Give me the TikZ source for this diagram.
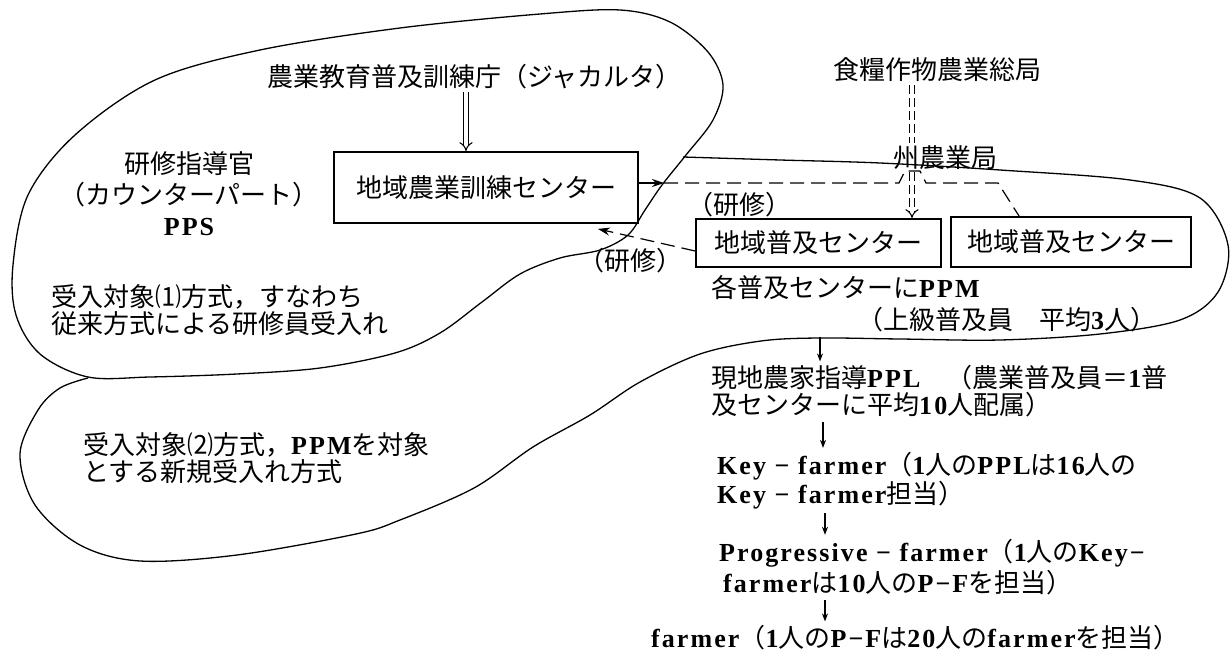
\documentclass[tikz,border=0pt]{standalone}
\usepackage{fontspec}
\newfontfamily\cjk{Noto Sans CJK JP}
\newfontfamily\latfont{Liberation Serif}[LetterSpace=8]
\newcommand\latn[1]{{\latfont\bfseries #1}}
\usetikzlibrary{arrows.meta,calc}
\tikzset{
  txt/.style={font=\cjk\fontsize{26}{30}\selectfont, inner sep=0pt, text=black},
  boxnode/.style={txt, draw, line width=1.8pt},
  blob/.style={line width=1.3pt},
  dsh/.style={line width=1.2pt, dash pattern=on 14pt off 7pt},
  dbl/.style={line width=1.1pt, double, double distance=3.5pt},
  thinarr/.style={line width=1.1pt, -{Stealth[length=8pt,width=6pt]}, shorten <=4pt, shorten >=4pt},
}
\begin{document}
\begin{tikzpicture}[x=1pt,y=-1pt]
\path[use as bounding box, fill=white] (0,0) rectangle (1232,655);

% regions
\draw[blob] plot[smooth cycle, tension=0.55] coordinates {
 (88,377) (40,354) (16,315) (13,265) (28,195) (75,135) (155,80) (260,50)
 (400,28) (540,14) (620,10) (670,22) (708,52) (723,85) (713,120) (686,155)
 (662,185) (645,210) (628,235) (600,250) (560,258) (520,274) (482,302)
 (440,333) (395,353) (320,368) (237,374) (150,377)};
\draw[blob] plot[smooth, tension=0.55] coordinates {
 (683,157) (780,160) (880,163) (1000,170) (1130,180) (1200,198) (1228,245)
 (1218,292) (1180,320) (1100,334) (1000,340) (900,339) (818,338) (761,341)
 (700,354) (640,382) (590,415) (533,447) (474,488) (400,520) (356,534)
 (237,555) (140,561) (80,545) (35,505) (20,454) (38,410) (60,388) (88,378)};

% texts
\node[txt, anchor=west] (tl) at (267,77) {農業教育普及訓練庁（ジャカルタ）};
\node[txt, anchor=west] (top2) at (833,70) {食糧作物農業総局};
\node[txt] (shu) at (945,158) {州農業局};
\node[txt, align=center] (officer) at (189,194) {研修指導官\\[1pt]（カウンターパート）\\[1pt]\latn{PPS}};
\node[boxnode, minimum width=304pt, minimum height=71pt] (tc) at (486,187.5) {地域農業訓練センター};
\node[boxnode, minimum width=245pt, minimum height=48pt] (box1) at (818.5,243) {地域普及センター};
\node[boxnode, minimum width=240pt, minimum height=50pt] (box2) at (1071,242) {地域普及センター};
\node[txt] (ken1) at (739,205) {（研修）};
\node[txt] (ken2) at (630,261) {（研修）};
\node[txt, anchor=west] (ppm1) at (711,288) {各普及センターに\latn{PPM}};
\node[txt, anchor=west] (ppm2) at (857,320) {（上級普及員　平均\latn{3}人）};
\node[txt, anchor=west] (ppl1) at (711,378) {現地農家指導\latn{PPL}　（農業普及員＝\latn{1}普};
\node[txt, anchor=west] (ppl2) at (711,405) {及センターに平均\latn{10}人配属）};
\node[txt, anchor=west] (key1) at (717,466) {\latn{Key − farmer}（\latn{1}人の\latn{PPL}は\latn{16}人の};
\node[txt, anchor=west] (key2) at (717,495) {\latn{Key − farmer}担当）};
\node[txt, anchor=west] (prog1) at (719,553) {\latn{Progressive − farmer}（\latn{1}人の\latn{Key−}};
\node[txt, anchor=west] (prog2) at (723,583) {\latn{farmer}は\latn{10}人の\latn{P−F}を担当）};
\node[txt, anchor=west] (farm) at (651,638) {\latn{farmer}（\latn{1}人の\latn{P−F}は\latn{20}人の\latn{farmer}を担当）};
\node[txt, anchor=west, align=left] (recv1) at (51,310.5) {受入対象⑴方式，すなわち\\[-3pt]従来方式による研修員受入れ};
\node[txt, anchor=west, align=left] (recv2) at (83,458.5) {受入対象⑵方式，\latn{PPM}を対象\\[-3pt]とする新規受入れ方式};

% connectors
\coordinate (ax) at (466,0);
\draw[dbl, -{Implies}, shorten <=2pt] (tl.south -| ax) -- (tc.north -| ax);
\coordinate (vx) at (912,0);
\draw[dbl, dash pattern=on 9pt off 4pt, shorten <=3pt, shorten >=3pt] (top2.south -| vx) -- (shu.north -| vx);
\draw[dbl, dash pattern=on 9pt off 4pt, -{Implies}, shorten <=2pt] (shu.south -| vx) -- (box1.north -| vx);

\coordinate (ah) at (664,183);
\draw[line width=1.2pt, -{Stealth[length=12pt,width=8pt]}] (tc.east |- ah) -- (ah);
\coordinate (h1) at (899,183);
\coordinate (h2) at (905,171);
\coordinate (h3) at (920,171);
\coordinate (h4) at (926,183);
\coordinate (h5) at (998,183);
\draw[dsh] (ah) -- (h1) -- (h2) -- (h3) -- (h4) -- (h5) -- ($(box2.north west)+(69,0)$);
\coordinate (l1) at (0,251);
\draw[dsh, -{Stealth[length=12pt,width=8pt]}] (box1.west |- l1) -- ($(tc.south east)+(-41,5)$);

\draw[thinarr] (ppm2.south -| 820,0) -- (ppl1.north -| 820,0);
\draw[thinarr] (ppl2.south -| 823,0) -- (key1.north -| 823,0);
\draw[thinarr] (key2.south -| 825,0) -- (prog1.north -| 825,0);
\draw[thinarr] (prog2.south -| 825,0) -- (farm.north -| 825,0);
\end{tikzpicture}
\end{document}
